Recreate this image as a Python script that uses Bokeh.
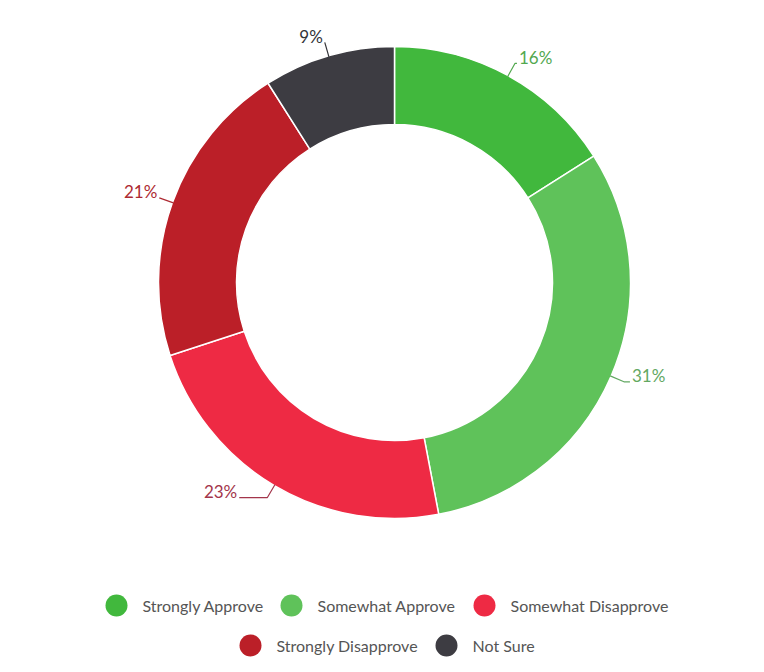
import numpy as np
from bokeh.plotting import figure
from bokeh.models import Range1d, ColumnDataSource
from bokeh.core.properties import value
from bokeh.embed import file_html
from bokeh.resources import INLINE

categories = ["Strongly Approve", "Somewhat Approve", "Somewhat Disapprove",
              "Strongly Disapprove", "Not Sure"]
shares = [16, 31, 23, 21, 9]
colors = ["#41b83d", "#5fc25a", "#ee2a44", "#bb1f28", "#3d3c42"]
label_colors = ["#52a84f", "#62a862", "#a3354b", "#ad2a32", "#333338"]

W, H = 756, 664
FONT = value("Lato")

# donut geometry (screen px, y up)
cx, cy = 394, 382
r_out, r_in = 236, 158

# extra horizontal length of each label connector
elbow = [2, 6, 28, 0, 0]

# legend layout: item indexes per row, circle x per item, row y
legend_rows = [[0, 1, 2], [3, 4]]
legend_x = [[116, 291, 484], [250, 446]]
legend_y = [59, 19]

p = figure(width=W, height=H, x_range=Range1d(0, W), y_range=Range1d(0, H),
           toolbar_location=None, output_backend="svg", min_border=0,
           x_axis_type=None, y_axis_type=None)
p.grid.visible = False
p.outline_line_color = None

frac = np.array(shares) / sum(shares)
cum = np.cumsum(frac)
start = np.pi / 2 - 2 * np.pi * (cum - frac)
end = np.pi / 2 - 2 * np.pi * cum

src = ColumnDataSource(dict(start=start, end=end, color=colors, cat=categories))
p.annular_wedge(x=cx, y=cy, inner_radius=r_in, outer_radius=r_out,
                start_angle="start", end_angle="end", direction="clock",
                fill_color="color", line_color="white", line_width=1.5,
                source=src)

# data labels with connectors
mid = np.pi / 2 - 2 * np.pi * (cum - frac / 2)
xs, ys, tx, ty, align = [], [], [], [], []
for i, a in enumerate(mid):
    side = 1 if np.cos(a) >= 0 else -1
    x0, y0 = cx + (r_out - 1) * np.cos(a), cy + (r_out - 1) * np.sin(a)
    x1, y1 = cx + (r_out + 14) * np.cos(a), cy + (r_out + 14) * np.sin(a)
    x2 = x1 + side * elbow[i]
    xs.append([x0, x1, x2])
    ys.append([y0, y1, y1])
    tx.append(x2 + side * 2)
    ty.append(y1 + 6)
    align.append("left" if side > 0 else "right")

p.multi_line(xs=xs, ys=ys, line_color=label_colors, line_width=1.2)
lab = ColumnDataSource(dict(x=tx, y=ty, text=[f"{s}%" for s in shares],
                            align=align, color=label_colors))
p.text(x="x", y="y", text="text", text_align="align", text_baseline="middle",
       text_color="color", text_font=FONT, text_font_size="17px", source=lab)

# legend drawn as two centred rows
for row, xrow, yrow in zip(legend_rows, legend_x, legend_y):
    idx = list(row)
    p.scatter(x=xrow, y=[yrow] * len(idx), size=22, marker="circle",
              fill_color=[colors[i] for i in idx], line_color=None)
    p.text(x=[x + 26 for x in xrow], y=[yrow] * len(idx),
           text=[categories[i] for i in idx], text_align="left",
           text_baseline="middle", text_color="#555555", text_font=FONT,
           text_font_size="16px")

open("out.html", "w").write(file_html(p, INLINE))
